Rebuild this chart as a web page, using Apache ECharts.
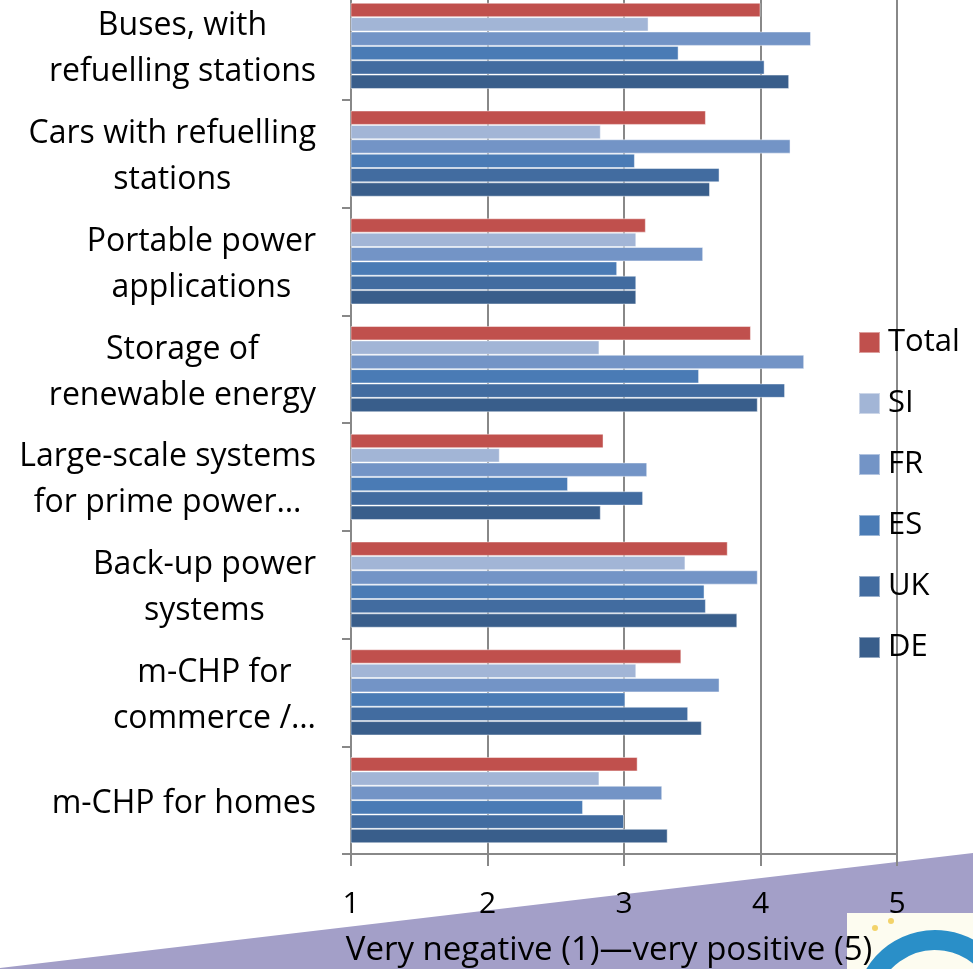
<!DOCTYPE html>
<html>
<head>
<meta charset="utf-8">
<script src="https://cdn.jsdelivr.net/npm/echarts@6/dist/echarts.min.js"></script>
<style>
  html, body { margin: 0; padding: 0; background: #fff; }
  #main { width: 973px; height: 969px; }
</style>
</head>
<body>
<div id="main"></div>
<script>
var categories = [
  "Buses, with\nrefuelling stations",
  "Cars with refuelling\nstations",
  "Portable power\napplications",
  "Storage of\nrenewable energy",
  "Large-scale systems\nfor prime power\u2026",
  "Back-up power\nsystems",
  "m-CHP for\ncommerce /\u2026",
  "m-CHP for homes"
];
var seriesNames = ["Total", "SI", "FR", "ES", "UK", "DE"];
var totalVals = [4.0, 3.6, 3.16, 3.93, 2.85, 3.76, 3.42, 3.1];
var siVals = [3.18, 2.83, 3.09, 2.82, 2.09, 3.45, 3.09, 2.82];
var frVals = [4.37, 4.22, 3.58, 4.32, 3.17, 3.98, 3.7, 3.28];
var esVals = [3.4, 3.08, 2.95, 3.55, 2.59, 3.59, 3.01, 2.7];
var ukVals = [4.03, 3.7, 3.09, 4.18, 3.14, 3.6, 3.47, 3.0];
var deVals = [4.21, 3.63, 3.09, 3.98, 2.83, 3.83, 3.57, 3.32];
var xTicks = [1, 2, 3, 4, 5];
var axisTitle = "Very negative (1)\u2014very positive (5)";

var colors = ["#c0504d", "#a2b5d6", "#7394c6", "#4a7bb5", "#426ca0", "#395e8b"];
var font = "'Open Sans', 'Noto Sans', sans-serif";

var chartDom = document.getElementById("main");
var myChart = echarts.init(chartDom);
var option;

var allVals = [totalVals, siVals, frVals, esVals, ukVals, deVals];
var series = seriesNames.map(function (name, i) {
  return {
    name: name,
    type: "bar",
    data: allVals[i],
    barGap: "0%",
    barCategoryGap: "20%",
    clip: true,
    itemStyle: {
      color: colors[i],
      borderColor: "rgba(255,255,255,0.45)",
      borderWidth: 1
    },
    emphasis: { disabled: true }
  };
});

option = {
  animation: false,
  backgroundColor: "#ffffff",
  textStyle: { fontFamily: font },
  color: colors,
  graphic: [
    {
      type: "polygon",
      z: -10,
      shape: { points: [[0, 968], [973, 853], [973, 969], [0, 969]] },
      style: { fill: "#a39fc8" }
    },
    {
      type: "rect",
      z: -5,
      shape: { x: 847, y: 913, width: 126, height: 56 },
      style: { fill: "#fdfcf0" }
    },
    {
      type: "arc",
      z: -4,
      shape: { cx: 935, cy: 1010, r: 70, startAngle: Math.PI * 1.05, endAngle: Math.PI * 1.75 },
      style: { stroke: "#2a8fc8", lineWidth: 20, fill: null }
    },
    {
      type: "circle",
      z: -4,
      shape: { cx: 875, cy: 928, r: 3 },
      style: { fill: "#f3d36a" }
    },
    {
      type: "circle",
      z: -4,
      shape: { cx: 891, cy: 921, r: 3 },
      style: { fill: "#f3d36a" }
    }
  ],
  legend: {
    orient: "vertical",
    left: 853,
    top: 322,
    itemWidth: 21,
    itemHeight: 21,
    itemGap: 30,
    icon: "rect",
    textStyle: { fontSize: 31, color: "#000", fontFamily: font, padding: [0, 0, 0, 3] },
    data: seriesNames
  },
  grid: {
    left: 351,
    right: 76,
    top: -8,
    height: 862,
    containLabel: false,
    outerBoundsMode: "none"
  },
  xAxis: {
    type: "value",
    min: xTicks[0],
    max: xTicks[xTicks.length - 1],
    interval: 1,
    name: axisTitle,
    nameLocation: "middle",
    nameGap: 80,
    nameTextStyle: { fontSize: 33, color: "#000", fontFamily: font, padding: [0, 30, 0, 0] },
    axisLine: { show: true, lineStyle: { color: "#888", width: 2 } },
    axisTick: { show: true, length: 12, lineStyle: { color: "#888", width: 2 } },
    axisLabel: { fontSize: 30, color: "#000", margin: 35, fontFamily: font },
    splitLine: { show: true, lineStyle: { color: "#888", width: 2 } }
  },
  yAxis: {
    type: "category",
    inverse: true,
    data: categories,
    axisLine: { show: true, lineStyle: { color: "#888", width: 2 } },
    axisTick: { show: true, length: 9, lineStyle: { color: "#888", width: 2 } },
    axisLabel: {
      margin: 35,
      interval: 0,
      padding: [7, 0, 0, 0],
      formatter: function (v) {
        return v.split("\n").map(function (l) { return "{c|" + l + "}"; }).join("\n");
      },
      rich: {
        c: { fontSize: 32, lineHeight: 46, color: "#000", align: "center", fontFamily: font }
      }
    },
    splitLine: { show: false }
  },
  series: series
};
myChart.setOption(option);
</script>
</body>
</html>
